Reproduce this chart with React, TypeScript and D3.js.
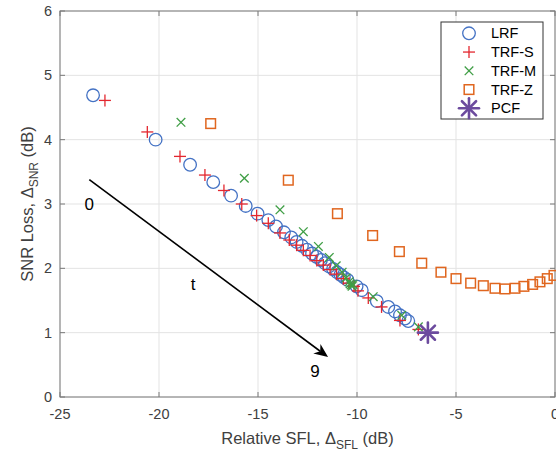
import React from "react";
import * as d3 from "d3";

const xTicks = [-25, -20, -15, -10, -5, 0];
const yTicks = [0, 1, 2, 3, 4, 5, 6];

const lrfX = [-23.33, -20.17, -18.43, -17.26, -16.36, -15.62, -15.02, -14.48, -14.09, -13.69, -13.32, -13.05, -12.78, -12.53, -12.27, -12.05, -11.82, -11.62, -11.41, -11.21, -11.01, -10.83, -10.66, -10.48, -10.02, -9.76, -9.0, -8.42, -8.08, -7.83, -7.58, -7.41];
const lrfY = [4.69, 4.0, 3.61, 3.34, 3.13, 2.97, 2.85, 2.75, 2.65, 2.56, 2.48, 2.41, 2.35, 2.29, 2.23, 2.18, 2.13, 2.08, 2.03, 1.99, 1.94, 1.9, 1.86, 1.82, 1.72, 1.66, 1.49, 1.4, 1.33, 1.27, 1.22, 1.18];

const trfsX = [-22.73, -20.59, -18.94, -17.68, -16.72, -15.82, -15.07, -14.48, -13.89, -13.42, -13.05, -12.71, -12.37, -12.03, -11.7, -11.36, -11.03, -10.69, -10.4, -10.15, -9.95, -9.43, -8.76, -7.83, -6.9];
const trfsY = [4.61, 4.12, 3.74, 3.45, 3.21, 3.0, 2.82, 2.7, 2.55, 2.44, 2.36, 2.28, 2.2, 2.12, 2.05, 1.98, 1.91, 1.84, 1.77, 1.72, 1.65, 1.54, 1.4, 1.19, 1.05];

const trfmX = [-18.89, -15.69, -13.89, -12.71, -11.95, -11.4, -11.05, -10.75, -10.55, -10.4, -10.35, -10.3, -10.25, -10.2, -9.18, -7.74, -6.9];
const trfmY = [4.27, 3.4, 2.91, 2.57, 2.34, 2.17, 2.04, 1.94, 1.85, 1.79, 1.76, 1.74, 1.72, 1.75, 1.56, 1.27, 1.09];

const trfzX = [-17.39, -13.47, -10.99, -9.21, -7.86, -6.73, -5.76, -5.0, -4.26, -3.62, -3.03, -2.53, -2.02, -1.57, -1.13, -0.76, -0.39, -0.05];
const trfzY = [4.25, 3.37, 2.85, 2.51, 2.26, 2.08, 1.94, 1.84, 1.77, 1.73, 1.69, 1.68, 1.69, 1.72, 1.75, 1.79, 1.84, 1.89];

const pcfX = [-6.42];
const pcfY = [1.0];

const legendLabels = ["LRF", "TRF-S", "TRF-M", "TRF-Z", "PCF"];

const arrowFrom = [-23.52, 3.38];
const arrowTo = [-11.46, 0.62];
const annotations = [
  { text: "0", x: -23.52, y: 3.0 },
  { text: "t", x: -18.28, y: 1.75 },
  { text: "9", x: -12.12, y: 0.4 },
];

const C_LRF = "#4472C4";
const C_S = "#E3272F";
const C_M = "#3F9E45";
const C_Z = "#E0661F";
const C_P = "#6C4B9E";

const FONT = "'Liberation Sans', Arial, Helvetica, sans-serif";

function Marker({ kind, cx, cy }: { kind: string; cx: number; cy: number }) {
  if (kind === "LRF")
    return <circle cx={cx} cy={cy} r={6.3} fill="none" stroke={C_LRF} strokeWidth={1.3} />;
  if (kind === "TRF-S") {
    const a = 6;
    return (
      <g stroke={C_S} strokeWidth={1.3}>
        <line x1={cx - a} y1={cy} x2={cx + a} y2={cy} />
        <line x1={cx} y1={cy - a} x2={cx} y2={cy + a} />
      </g>
    );
  }
  if (kind === "TRF-M") {
    const a = 4.3;
    return (
      <g stroke={C_M} strokeWidth={1.3}>
        <line x1={cx - a} y1={cy - a} x2={cx + a} y2={cy + a} />
        <line x1={cx - a} y1={cy + a} x2={cx + a} y2={cy - a} />
      </g>
    );
  }
  if (kind === "TRF-Z") {
    const a = 4.8;
    return <rect x={cx - a} y={cy - a} width={2 * a} height={2 * a} fill="none" stroke={C_Z} strokeWidth={1.5} />;
  }
  // PCF asterisk
  const r = 10;
  const d = r * Math.SQRT1_2;
  return (
    <g stroke={C_P} strokeWidth={2.6} strokeLinecap="round">
      <line x1={cx - r} y1={cy} x2={cx + r} y2={cy} />
      <line x1={cx} y1={cy - r} x2={cx} y2={cy + r} />
      <line x1={cx - d} y1={cy - d} x2={cx + d} y2={cy + d} />
      <line x1={cx - d} y1={cy + d} x2={cx + d} y2={cy - d} />
    </g>
  );
}

export default function App() {
  const W = 556, H = 452;
  const x = d3.scaleLinear().domain([-25, 0]).range([60, 555]);
  const y = d3.scaleLinear().domain([0, 6]).range([397, 11]);
  const [x0, x1] = x.range();
  const [y0, y1] = y.range();

  const series = [
    { kind: "LRF", xs: lrfX, ys: lrfY },
    { kind: "TRF-S", xs: trfsX, ys: trfsY },
    { kind: "TRF-M", xs: trfmX, ys: trfmY },
    { kind: "TRF-Z", xs: trfzX, ys: trfzY },
    { kind: "PCF", xs: pcfX, ys: pcfY },
  ];

  // arrow geometry
  const ax1 = x(arrowFrom[0]), ay1 = y(arrowFrom[1]);
  const ax2 = x(arrowTo[0]), ay2 = y(arrowTo[1]);
  const ang = Math.atan2(ay2 - ay1, ax2 - ax1);
  const hl = 14, hw = 6;
  const bx = ax2 - hl * Math.cos(ang), by = ay2 - hl * Math.sin(ang);
  const nx = -Math.sin(ang), ny = Math.cos(ang);
  const ix = ax2 - hl * 0.7 * Math.cos(ang), iy = ay2 - hl * 0.7 * Math.sin(ang);
  const head = `M${ax2},${ay2} L${bx + nx * hw},${by + ny * hw} L${ix},${iy} L${bx - nx * hw},${by - ny * hw} Z`;

  const lx = 441, ly = 22, lw = 102, lh = 97;

  return (
    <svg width={W} height={H} style={{ position: "absolute", left: 0, top: 0, background: "#fff" }} fontFamily={FONT}>
      <rect x={0} y={0} width={W} height={H} fill="#fff" />
      {/* grid */}
      <g stroke="#e3e3e3" strokeWidth={1}>
        {xTicks.map((t) => (
          <line key={"gx" + t} x1={x(t)} x2={x(t)} y1={y0} y2={y1} />
        ))}
        {yTicks.map((t) => (
          <line key={"gy" + t} x1={x0} x2={x1} y1={y(t)} y2={y(t)} />
        ))}
      </g>
      {/* box */}
      <rect x={x0} y={y1} width={x1 - x0} height={y0 - y1} fill="none" stroke="#7a7a7a" strokeWidth={1} />
      <g stroke="#7a7a7a" strokeWidth={1}>
        {xTicks.map((t) => (
          <g key={"tx" + t}>
            <line x1={x(t)} x2={x(t)} y1={y0} y2={y0 - 5} />
            <line x1={x(t)} x2={x(t)} y1={y1} y2={y1 + 5} />
          </g>
        ))}
        {yTicks.map((t) => (
          <g key={"ty" + t}>
            <line x1={x0} x2={x0 + 5} y1={y(t)} y2={y(t)} />
            <line x1={x1} x2={x1 - 5} y1={y(t)} y2={y(t)} />
          </g>
        ))}
      </g>
      <g fill="#404040" fontSize={14.5}>
        {xTicks.map((t) => (
          <text key={"lx" + t} x={x(t)} y={y0 + 22} textAnchor="middle">
            {t}
          </text>
        ))}
        {yTicks.map((t) => (
          <text key={"ly" + t} x={x0 - 8} y={y(t) + 5} textAnchor="end">
            {t}
          </text>
        ))}
      </g>
      {/* axis labels */}
      <text x={(x0 + x1) / 2} y={444} textAnchor="middle" fontSize={16.5} fill="#404040">
        Relative SFL, Δ
        <tspan fontSize={12} dy={5}>SFL</tspan>
        <tspan dy={-5}> (dB)</tspan>
      </text>
      <text transform={`translate(33,${(y0 + y1) / 2}) rotate(-90)`} textAnchor="middle" fontSize={16.5} fill="#404040">
        SNR Loss, Δ
        <tspan fontSize={12} dy={5}>SNR</tspan>
        <tspan dy={-5}> (dB)</tspan>
      </text>
      {/* arrow */}
      <line x1={ax1} y1={ay1} x2={ix} y2={iy} stroke="#000" strokeWidth={1.6} />
      <path d={head} fill="#000" />
      {annotations.map((a) => (
        <text key={a.text} x={x(a.x)} y={y(a.y) + 6} textAnchor="middle" fontSize={17} fill="#000">
          {a.text}
        </text>
      ))}
      {/* data */}
      {series.map((s) => (
        <g key={s.kind}>
          {s.xs.map((v, i) => (
            <Marker key={i} kind={s.kind} cx={x(v)} cy={y(s.ys[i])} />
          ))}
        </g>
      ))}
      {/* legend */}
      <rect x={lx} y={ly} width={lw} height={lh} fill="#fff" stroke="#333" strokeWidth={1} />
      {legendLabels.map((l, i) => (
        <g key={l}>
          <Marker kind={l} cx={469} cy={33.3 + i * 18.75} />
          <text x={491} y={33.3 + i * 18.75 + 5} fontSize={14.5} fill="#000">
            {l}
          </text>
        </g>
      ))}
    </svg>
  );
}
